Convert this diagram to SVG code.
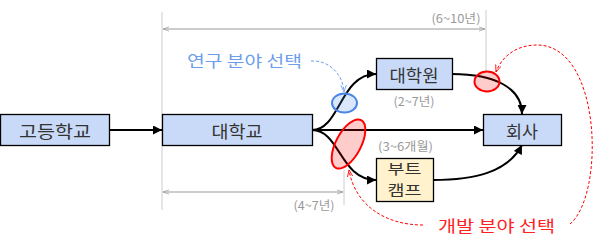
<svg xmlns="http://www.w3.org/2000/svg" width="595" height="246" viewBox="0 0 595 246">
<style>
.box{fill:#c9daf8;stroke:#000;stroke-width:1.3}
.yel{fill:#fff2cc;stroke:#000;stroke-width:1.3}
.lbl{font-family:"Noto Sans CJK KR","Noto Sans",sans-serif;font-size:17px;fill:#333;text-anchor:middle;dominant-baseline:central}
.lbl2{font-family:"Noto Sans CJK KR","Noto Sans",sans-serif;font-size:14px;fill:#333;text-anchor:middle;dominant-baseline:central}
.gray{font-family:"Noto Sans CJK KR","Noto Sans",sans-serif;font-size:12px;fill:#999;text-anchor:middle;dominant-baseline:central}
.note{font-family:"Noto Sans CJK KR","Noto Sans",sans-serif;font-size:16px;text-anchor:middle;dominant-baseline:central}
.con{fill:none;stroke:#000;stroke-width:2}
.dim{fill:none;stroke:#999;stroke-width:1}
.guide{fill:none;stroke:#ccc;stroke-width:1}
</style>
<defs>
<marker id="ah" viewBox="0 0 10 10" refX="10" refY="5" markerWidth="5.5" markerHeight="4.5" markerUnits="strokeWidth" orient="auto">
<path d="M0,0 L10,5 L0,10 z" fill="#000"/>
</marker>
<marker id="dimA" viewBox="0 0 10 10" refX="10" refY="5" markerWidth="6" markerHeight="6" markerUnits="userSpaceOnUse" orient="auto-start-reverse">
<path d="M0,1.5 L10,5 L0,8.5" fill="none" stroke="#999" stroke-width="1.2"/>
</marker>
<marker id="blueA" viewBox="0 0 10 10" refX="10" refY="5" markerWidth="7" markerHeight="7" markerUnits="userSpaceOnUse" orient="auto">
<path d="M0,1 L10,5 L0,9" fill="none" stroke="#6d9eeb" stroke-width="1.2"/>
</marker>
<marker id="redA" viewBox="0 0 10 10" refX="10" refY="5" markerWidth="7" markerHeight="7" markerUnits="userSpaceOnUse" orient="auto">
<path d="M0,1 L10,5 L0,9" fill="none" stroke="#ff0000" stroke-width="1.2"/>
</marker>
</defs>

<g id="guides">
<line class="guide" x1="162" y1="12" x2="162" y2="210"/>
<line class="guide" x1="486" y1="10" x2="486" y2="71"/>
<line class="guide" x1="344" y1="170" x2="344" y2="205"/>
<line class="dim" x1="163" y1="29" x2="485" y2="29" marker-start="url(#dimA)" marker-end="url(#dimA)"/>
<line class="dim" x1="163" y1="192" x2="343" y2="192" marker-start="url(#dimA)" marker-end="url(#dimA)"/>
<text class="gray" x="456" y="17" textLength="49" lengthAdjust="spacingAndGlyphs">(6~10년)</text>
<text class="gray" x="314" y="204" textLength="41" lengthAdjust="spacingAndGlyphs">(4~7년)</text>
</g>

<g id="connectors">
<line class="con" x1="110" y1="130" x2="162" y2="130" marker-end="url(#ah)"/>
<path class="con" d="M312,130 C340,130 340,74 376,74" marker-end="url(#ah)"/>
<line class="con" x1="312" y1="130" x2="483" y2="130" marker-end="url(#ah)"/>
<path class="con" d="M312,130 C340,130 340,180 376,180" marker-end="url(#ah)"/>
<path class="con" d="M452,74 C495,74 522,88 522,114" marker-end="url(#ah)"/>
<path class="con" d="M433,180 C475,180 508,172 522,145" marker-end="url(#ah)"/>
</g>

<g id="n-highschool">
<rect class="box" x="0.5" y="114.5" width="109" height="31"/>
<text class="lbl" x="55" y="130" textLength="72" lengthAdjust="spacingAndGlyphs">고등학교</text>
</g>
<g id="n-university">
<rect class="box" x="162.5" y="114.5" width="150" height="31"/>
<text class="lbl" x="237" y="130" textLength="51" lengthAdjust="spacingAndGlyphs">대학교</text>
</g>
<g id="n-graduate">
<rect class="box" x="376.5" y="58.5" width="76" height="31"/>
<text class="lbl" x="414" y="74" textLength="49" lengthAdjust="spacingAndGlyphs">대학원</text>
<text class="gray" x="414" y="100" textLength="41" lengthAdjust="spacingAndGlyphs">(2~7년)</text>
</g>
<g id="n-company">
<rect class="box" x="483.5" y="114.5" width="78" height="31"/>
<text class="lbl" x="522" y="130" textLength="32" lengthAdjust="spacingAndGlyphs">회사</text>
</g>
<g id="n-bootcamp">
<rect class="yel" x="376.5" y="158.5" width="57" height="43"/>
<text class="lbl2" x="404.5" y="168" textLength="34" lengthAdjust="spacingAndGlyphs">부트</text>
<text class="lbl2" x="404.5" y="189" textLength="34" lengthAdjust="spacingAndGlyphs">캠프</text>
<text class="gray" x="405.5" y="145" textLength="55" lengthAdjust="spacingAndGlyphs">(3~6개월)</text>
</g>

<g id="research-choice">
<ellipse cx="344.5" cy="103" rx="12.5" ry="9.5" fill="#4a86e8" fill-opacity="0.2" stroke="#4a86e8" stroke-width="2"/>
<path d="M311,61 C330,60 343,75 344,92" fill="none" stroke="#6d9eeb" stroke-width="1" stroke-dasharray="3,2" marker-end="url(#blueA)"/>
<text class="note" x="244.5" y="60" fill="#6d9eeb" textLength="115" lengthAdjust="spacingAndGlyphs">연구 분야 선택</text>
</g>

<g id="dev-choice">
<ellipse cx="348.5" cy="144" rx="12.5" ry="27" transform="rotate(28 348.5 144)" fill="#ff0000" fill-opacity="0.2" stroke="#ff0000" stroke-width="2"/>
<ellipse cx="487" cy="81.5" rx="12.5" ry="10" fill="#ff0000" fill-opacity="0.2" stroke="#ff0000" stroke-width="2"/>
<path d="M423,225 C385,225 355,205 349,170" fill="none" stroke="#ff0000" stroke-width="1" stroke-dasharray="3,2" marker-end="url(#redA)"/>
<path d="M570,224 C605,195 602,45 537,45 C515,45 501,58 496,72" fill="none" stroke="#ff0000" stroke-width="1" stroke-dasharray="3,2" marker-end="url(#redA)"/>
<text class="note" x="496.5" y="225" fill="#ff2222" textLength="117" lengthAdjust="spacingAndGlyphs">개발 분야 선택</text>
</g>
</svg>
